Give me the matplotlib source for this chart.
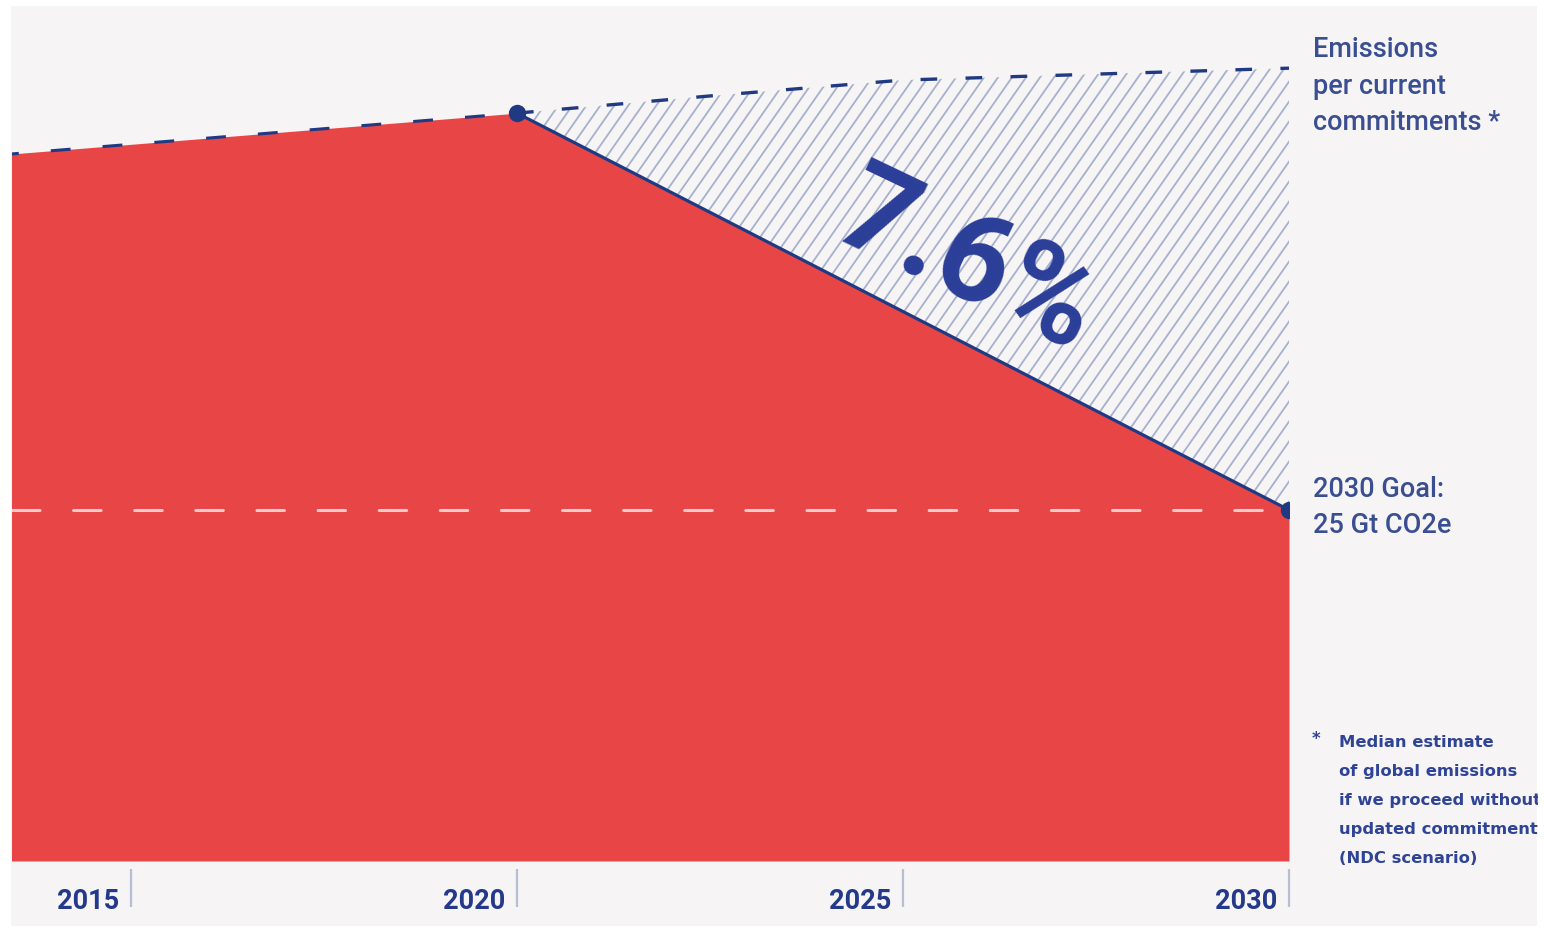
import numpy as np
import matplotlib
matplotlib.use('Agg')
import matplotlib.pyplot as plt
from matplotlib.patches import Rectangle
from matplotlib.collections import LineCollection
from matplotlib.transforms import blended_transform_factory, offset_copy

# ── data ─────────────────────────────────────────────────────────────────────
hist_years = [2013, 2020]
hist_values = [51.7, 55.0]            # Gt CO2e
goal_years = [2020, 2030]
goal_values = [55.0, 25.0]            # 7.6 % cut per year
ndc_years = [2020, 2022.5, 2025, 2027.5, 2030]
ndc_values = [55.0, 56.3, 57.5, 57.95, 58.4]
goal_level = 25.0
tick_years = [2015, 2020, 2025, 2030]

W, H = 1544, 929
RED = '#e84547'
NAVY = '#1f3a82'
PANEL = '#f6f4f4'
TXT = '#3a4f92'

plt.rcParams['font.family'] = ['Roboto', 'DejaVu Sans']

fig = plt.figure(figsize=(W / 100, H / 100), dpi=100)
fig.patch.set_facecolor('white')

def px(x, y):
    return x / W, 1 - y / H

# panel background
fig.add_artist(Rectangle(px(11, 927), (1537 - 11) / W, (927 - 7) / H,
                         transform=fig.transFigure, facecolor=PANEL,
                         edgecolor='none', zorder=-10))

# axes = data area
x0, x1, y0, y1 = 12, 1289, 7, 862
ax = fig.add_axes([x0 / W, 1 - y1 / H, (x1 - x0) / W, (y1 - y0) / H])
ax.set_facecolor('none')
ax.set_xlim(2013.459, 2030)
ax.set_ylim(-1.54, 63.1)
ylo = ax.get_ylim()[0]

# red area: history + pathway
red_x = hist_years + goal_years[1:]
red_y = hist_values + goal_values[1:]
ax.fill_between(red_x, red_y, ylo, color=RED, lw=0, zorder=1)

# gap region (hatched) between pathway and NDC line
goal_interp = np.interp(ndc_years, goal_years, goal_values)
gap = ax.fill_between(ndc_years, goal_interp, ndc_values,
                      facecolor='none', edgecolor='none', zorder=2)
clip = gap.get_paths()[0]
wpx, hpx = x1 - x0, y1 - y0
slope = np.tan(np.radians(55))
dx = hpx / slope
segs = []
for c in np.arange(-dx, wpx + 14, 14):
    segs.append([(c / wpx, 0), ((c + dx) / wpx, 1)])
lc = LineCollection(segs, colors='#a6b1ce', linewidths=1.3,
                    transform=ax.transAxes, zorder=2)
lc.set_clip_path(clip, ax.transData)
ax.add_collection(lc)

# goal level dashed line
ax.plot([ax.get_xlim()[0], goal_years[-1]], [goal_level, goal_level],
        color='#f7caca', lw=2.2, dashes=(9, 11), zorder=2,
        dash_capstyle='round')

# dashed historical / NDC line
ax.plot(hist_years, hist_values, color=NAVY, lw=2.2, dashes=(6.5, 10.5), zorder=3)
ax.plot(ndc_years, ndc_values, color=NAVY, lw=2.4, dashes=(5, 8.5), zorder=3)

# pathway line and points
ax.plot(goal_years, goal_values, color=NAVY, lw=2.3, zorder=3)
ax.plot(goal_years, goal_values, 'o', color=NAVY, ms=11.5, zorder=4)

# axis styling
for s in ['top', 'right', 'left']:
    ax.spines[s].set_visible(False)
ax.spines['bottom'].set_visible(False)
ax.spines['bottom'].set_position(('outward', 6))
ax.set_yticks([])
ax.set_xticks(tick_years)
ax.set_xticklabels([])
ax.tick_params(axis='x', direction='out', length=27.5, width=1.6,
               color='#b5bed2', pad=0)

trans = blended_transform_factory(ax.transData, fig.transFigure)
trans = offset_copy(trans, fig=fig, x=-12, y=0, units='dots')
for yr in tick_years:
    ax.text(yr, 1 - 909 / H, str(yr), transform=trans, ha='right',
            va='baseline', fontsize=19.5, fontweight='bold', color='#24398a')

# big 7.6%
fig.text(*px(966, 264), '7.6%', ha='center', va='center', rotation=-25.5,
         rotation_mode='anchor', fontsize=90, fontweight='bold',
         color='#2b3e98', zorder=5)

# right-hand labels
for i, line in enumerate(['Emissions', 'per current', 'commitments *']):
    fig.text(*px(1313, 57 + 36.5 * i), line, ha='left', va='baseline',
             fontsize=19.5, fontweight='medium', color=TXT)
for i, line in enumerate(['2030 Goal:', '25 Gt CO2e']):
    fig.text(*px(1313, 497 + 36 * i), line, ha='left', va='baseline',
             fontsize=19.5, fontweight='medium', color=TXT)

# footnote
fig.text(*px(1312, 744), '*', ha='left', va='baseline', fontsize=12,
         fontweight='bold', color='#2f4496', family='DejaVu Sans')
notes = ['Median estimate', 'of global emissions', 'if we proceed without',
         'updated commitments', '(NDC scenario)']
for i, line in enumerate(notes):
    fig.text(*px(1339, 747 + 29 * i), line, ha='left', va='baseline',
             fontsize=11.8, fontweight='bold', color='#2f4496',
             family='DejaVu Sans')

# panel edge clips the footnote, as in the source graphic
fig.add_artist(Rectangle(px(1538, 929), 6 / W, 1, transform=fig.transFigure,
                         facecolor='white', edgecolor='none', zorder=20))

fig.savefig('out.png', dpi=100, facecolor='white')
